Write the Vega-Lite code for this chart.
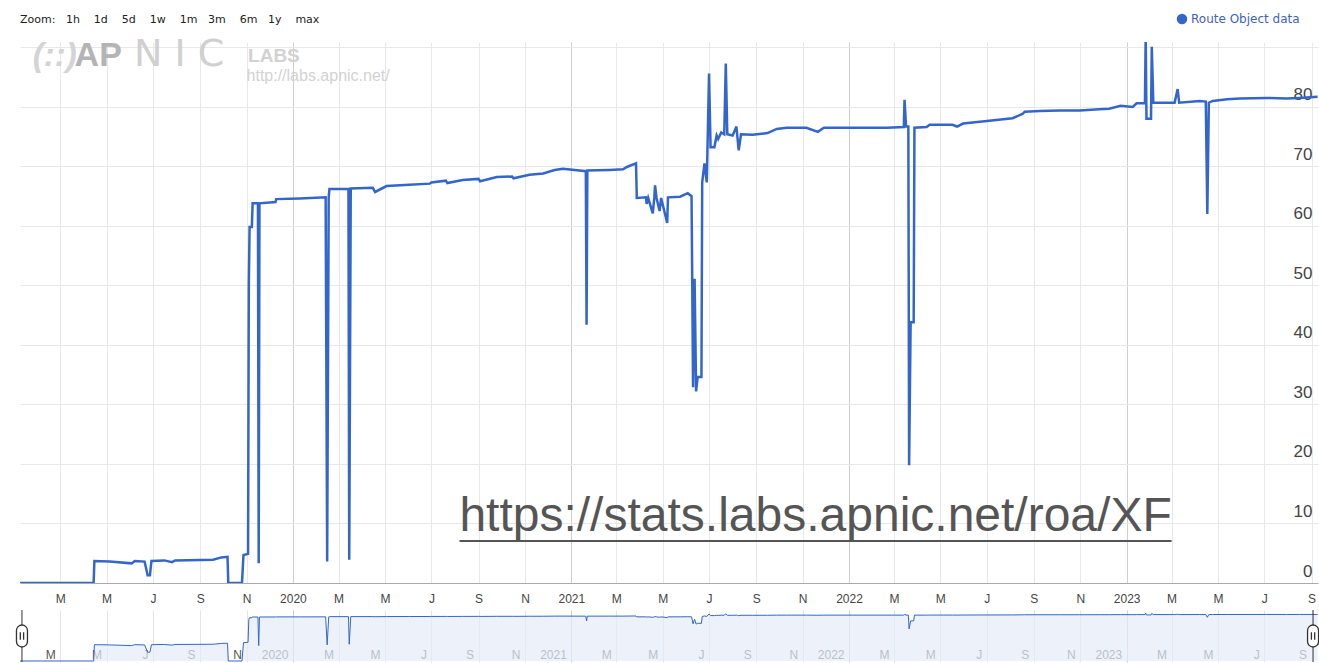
{
  "$schema": "https://vega.github.io/schema/vega-lite/v6.json",
  "background": "white",
  "padding": {"left": 13, "top": 13, "right": 0, "bottom": 0},
  "config": {
    "font": "Arial",
    "view": {"stroke": null},
    "axis": {"title": null},
    "title": {"font": "DejaVu Sans", "fontSize": 11, "fontWeight": "normal", "color": "#222222", "anchor": "start", "frame": "group"}
  },
  "title": {"text": "Zoom:\u00a0\u00a0\u00a01h\u00a0\u00a0\u00a0\u00a01d\u00a0\u00a0\u00a0\u00a05d\u00a0\u00a0\u00a0\u00a01w\u00a0\u00a0\u00a0\u00a01m\u00a0\u00a0\u00a03m\u00a0\u00a0\u00a0\u00a06m\u00a0\u00a0\u00a01y\u00a0\u00a0\u00a0\u00a0max", "offset": -12},
  "datasets": {
    "roa": [
      {"date": "2019-01-07", "value": 0},
      {"date": "2019-04-14", "value": 0},
      {"date": "2019-04-15", "value": 3.7},
      {"date": "2019-05-05", "value": 3.6},
      {"date": "2019-06-03", "value": 3.3},
      {"date": "2019-06-07", "value": 3.7},
      {"date": "2019-06-20", "value": 3.6},
      {"date": "2019-06-24", "value": 1.3},
      {"date": "2019-06-27", "value": 1.3},
      {"date": "2019-06-29", "value": 3.7},
      {"date": "2019-07-16", "value": 3.8},
      {"date": "2019-07-26", "value": 3.5},
      {"date": "2019-07-30", "value": 3.8},
      {"date": "2019-09-18", "value": 3.9},
      {"date": "2019-09-29", "value": 4.3},
      {"date": "2019-10-07", "value": 4.4},
      {"date": "2019-10-08", "value": 0},
      {"date": "2019-10-26", "value": 0},
      {"date": "2019-10-28", "value": 4.7},
      {"date": "2019-11-03", "value": 4.9},
      {"date": "2019-11-04", "value": 50},
      {"date": "2019-11-05", "value": 59.8},
      {"date": "2019-11-08", "value": 59.8},
      {"date": "2019-11-09", "value": 63.8},
      {"date": "2019-11-16", "value": 63.8},
      {"date": "2019-11-17", "value": 3.3},
      {"date": "2019-11-18", "value": 63.8},
      {"date": "2019-12-09", "value": 64.0},
      {"date": "2019-12-10", "value": 64.5},
      {"date": "2020-01-10", "value": 64.6},
      {"date": "2020-02-13", "value": 64.8},
      {"date": "2020-02-15", "value": 3.6},
      {"date": "2020-02-17", "value": 64.8},
      {"date": "2020-02-18", "value": 66.2},
      {"date": "2020-03-14", "value": 66.2},
      {"date": "2020-03-15", "value": 3.9},
      {"date": "2020-03-17", "value": 66.3},
      {"date": "2020-04-15", "value": 66.4},
      {"date": "2020-04-18", "value": 65.7},
      {"date": "2020-05-03", "value": 66.7},
      {"date": "2020-06-02", "value": 66.9},
      {"date": "2020-06-29", "value": 67.1},
      {"date": "2020-07-01", "value": 67.3},
      {"date": "2020-07-20", "value": 67.6},
      {"date": "2020-07-22", "value": 67.2},
      {"date": "2020-08-11", "value": 67.7},
      {"date": "2020-09-01", "value": 67.9},
      {"date": "2020-09-03", "value": 67.5},
      {"date": "2020-09-25", "value": 68.2},
      {"date": "2020-10-15", "value": 68.3},
      {"date": "2020-10-17", "value": 68.0},
      {"date": "2020-11-07", "value": 68.6},
      {"date": "2020-11-25", "value": 68.8},
      {"date": "2020-12-10", "value": 69.4},
      {"date": "2020-12-21", "value": 69.6},
      {"date": "2021-01-20", "value": 69.2},
      {"date": "2021-01-21", "value": 43.4},
      {"date": "2021-01-22", "value": 69.3},
      {"date": "2021-02-20", "value": 69.4},
      {"date": "2021-03-10", "value": 69.5},
      {"date": "2021-03-15", "value": 69.9},
      {"date": "2021-03-27", "value": 70.5},
      {"date": "2021-03-28", "value": 64.7},
      {"date": "2021-04-09", "value": 64.8},
      {"date": "2021-04-10", "value": 63.7},
      {"date": "2021-04-12", "value": 64.7},
      {"date": "2021-04-18", "value": 62.1},
      {"date": "2021-04-20", "value": 64.7},
      {"date": "2021-04-21", "value": 66.8},
      {"date": "2021-04-23", "value": 64.7},
      {"date": "2021-04-27", "value": 62.5},
      {"date": "2021-04-29", "value": 64.7},
      {"date": "2021-05-07", "value": 60.5},
      {"date": "2021-05-08", "value": 64.8},
      {"date": "2021-05-24", "value": 64.9},
      {"date": "2021-06-03", "value": 65.5},
      {"date": "2021-06-08", "value": 65.0},
      {"date": "2021-06-10", "value": 32.9},
      {"date": "2021-06-12", "value": 51.1},
      {"date": "2021-06-14", "value": 32.2},
      {"date": "2021-06-16", "value": 34.6},
      {"date": "2021-06-21", "value": 34.6},
      {"date": "2021-06-22", "value": 67.3},
      {"date": "2021-06-25", "value": 70.5},
      {"date": "2021-06-28", "value": 67.3},
      {"date": "2021-07-01", "value": 85.6},
      {"date": "2021-07-03", "value": 73.2},
      {"date": "2021-07-08", "value": 73.2},
      {"date": "2021-07-11", "value": 75.2},
      {"date": "2021-07-13", "value": 74.6},
      {"date": "2021-07-17", "value": 75.7},
      {"date": "2021-07-21", "value": 75.4},
      {"date": "2021-07-23", "value": 87.3},
      {"date": "2021-07-25", "value": 75.4},
      {"date": "2021-08-01", "value": 75.2},
      {"date": "2021-08-06", "value": 76.7},
      {"date": "2021-08-07", "value": 75.3},
      {"date": "2021-08-09", "value": 72.7},
      {"date": "2021-08-12", "value": 75.4},
      {"date": "2021-08-27", "value": 75.3},
      {"date": "2021-09-16", "value": 75.6},
      {"date": "2021-09-28", "value": 76.3},
      {"date": "2021-10-11", "value": 76.5},
      {"date": "2021-11-06", "value": 76.5},
      {"date": "2021-11-21", "value": 75.8},
      {"date": "2021-11-29", "value": 76.5},
      {"date": "2022-01-06", "value": 76.5},
      {"date": "2022-02-20", "value": 76.5},
      {"date": "2022-03-14", "value": 76.6},
      {"date": "2022-03-15", "value": 81.2},
      {"date": "2022-03-17", "value": 76.7},
      {"date": "2022-03-20", "value": 76.7},
      {"date": "2022-03-21", "value": 19.8},
      {"date": "2022-03-23", "value": 43.8},
      {"date": "2022-03-27", "value": 43.8},
      {"date": "2022-03-28", "value": 76.5},
      {"date": "2022-04-13", "value": 76.6},
      {"date": "2022-04-17", "value": 77.0},
      {"date": "2022-05-17", "value": 77.0},
      {"date": "2022-05-23", "value": 76.7},
      {"date": "2022-05-31", "value": 77.2},
      {"date": "2022-06-22", "value": 77.5},
      {"date": "2022-08-04", "value": 78.1},
      {"date": "2022-08-17", "value": 78.8},
      {"date": "2022-08-20", "value": 79.2},
      {"date": "2022-09-09", "value": 79.3},
      {"date": "2022-10-05", "value": 79.4},
      {"date": "2022-10-31", "value": 79.4},
      {"date": "2022-11-26", "value": 79.6},
      {"date": "2022-12-09", "value": 79.7},
      {"date": "2022-12-24", "value": 80.2},
      {"date": "2023-01-09", "value": 80.0},
      {"date": "2023-01-14", "value": 80.6},
      {"date": "2023-01-25", "value": 80.6},
      {"date": "2023-01-26", "value": 92},
      {"date": "2023-01-27", "value": 78.0},
      {"date": "2023-02-02", "value": 78.0},
      {"date": "2023-02-03", "value": 90.1},
      {"date": "2023-02-05", "value": 80.7},
      {"date": "2023-03-05", "value": 80.7},
      {"date": "2023-03-09", "value": 83.0},
      {"date": "2023-03-11", "value": 80.7},
      {"date": "2023-04-07", "value": 81.0},
      {"date": "2023-04-15", "value": 80.9},
      {"date": "2023-04-17", "value": 62.0},
      {"date": "2023-04-19", "value": 80.7},
      {"date": "2023-04-24", "value": 81.0},
      {"date": "2023-05-13", "value": 81.3},
      {"date": "2023-05-30", "value": 81.4},
      {"date": "2023-07-04", "value": 81.5},
      {"date": "2023-07-30", "value": 81.4},
      {"date": "2023-08-16", "value": 81.5},
      {"date": "2023-09-09", "value": 81.7}
    ]
  },
  "spacing": 27,
  "bounds": "flush",
  "resolve": {"scale": {"x": "independent", "y": "independent", "color": "independent"}},
  "vconcat": [
    {
      "width": 1298,
      "height": 541,
      "layer": [
        {
          "data": {"name": "roa"},
          "mark": {"type": "line", "strokeWidth": 2.5, "clip": true},
          "encoding": {
            "x": {
              "field": "date", "type": "temporal",
              "scale": {"type": "utc", "domain": [{"year": 2019, "month": 1, "date": 7, "hours": 5, "utc": true}, {"year": 2023, "month": 9, "date": 9, "hours": 12, "utc": true}]},
              "axis": {
                "title": null,
                "tickCount": {"interval": "month", "step": 2},
                "labelExpr": "utcmonth(datum.value) === 0 ? utcFormat(datum.value, '%Y') : substring(utcFormat(datum.value, '%b'), 0, 1)",
                "ticks": false,
                "labelPadding": 10,
                "labelFontSize": 12,
                "labelFont": "Arial",
                "labelColor": "#444444",
                "labelFlush": false,
                "labelOverlap": false,
                "domainColor": "#aaaaaa",
                "grid": true,
                "gridColor": {"condition": {"test": "utcmonth(datum.value) === 0", "value": "#cfcfcf"}, "value": "#e8e8e8"}
              }
            },
            "y": {
              "field": "value", "type": "quantitative",
              "scale": {"domain": [0, 90.9], "nice": false, "zero": false},
              "axis": {
                "orient": "right",
                "title": null,
                "values": [0, 10, 20, 30, 40, 50, 60, 70, 80, 90],
                "labelExpr": "datum.value >= 90 ? '' : datum.label",
                "ticks": false,
                "domain": false,
                "grid": true,
                "labelAlign": "right",
                "labelPadding": -6,
                "labelBaseline": "alphabetic",
                "labelOffset": -7,
                "labelFontSize": 17,
                "labelFont": "Arial",
                "labelColor": "#444444",
                "gridColor": "#e8e8e8"
              }
            },
            "color": {
              "datum": "Route Object data", "type": "nominal",
              "scale": {"range": ["#3366cc"]},
              "legend": {
                "orient": "none", "legendX": 1156, "legendY": -29, "title": null,
                "symbolType": "circle", "symbolSize": 110, "symbolFillColor": "#3366cc", "symbolStrokeWidth": 0,
                "labelFont": "DejaVu Sans", "labelFontSize": 12, "labelColor": "#3d62c4", "padding": 0, "labelOffset": 3
              }
            }
          }
        },
        {
          "data": {"values": [{}]},
          "mark": {"type": "text", "align": "left", "baseline": "alphabetic", "fontSize": 33, "fontWeight": "bold", "fontStyle": "italic", "color": "#d4d4d4", "font": "Liberation Sans"},
          "encoding": {
            "x": {"datum": {"year": 2019, "month": 1, "date": 24, "utc": true}, "type": "temporal", "scale": {"type": "utc"}},
            "y": {"datum": 86.8, "type": "quantitative"},
            "text": {"value": "(::)"}
          }
        },
        {
          "data": {"values": [{}]},
          "mark": {"type": "text", "align": "left", "baseline": "alphabetic", "fontSize": 34, "fontWeight": "bold", "color": "#b4b4b4", "font": "Liberation Sans"},
          "encoding": {
            "x": {"datum": {"year": 2019, "month": 3, "date": 20, "utc": true}, "type": "temporal", "scale": {"type": "utc"}},
            "y": {"datum": 86.8, "type": "quantitative"},
            "text": {"value": "AP"}
          }
        },
        {
          "data": {"values": [{}]},
          "mark": {"type": "text", "align": "left", "baseline": "alphabetic", "fontSize": 38, "fontWeight": "normal", "color": "#d0d0d0", "font": "DejaVu Sans"},
          "encoding": {
            "x": {"datum": {"year": 2019, "month": 6, "date": 6, "utc": true}, "type": "temporal", "scale": {"type": "utc"}},
            "y": {"datum": 86.8, "type": "quantitative"},
            "text": {"value": "N I C"}
          }
        },
        {
          "data": {"values": [{}]},
          "mark": {"type": "text", "align": "left", "baseline": "alphabetic", "fontSize": 19, "fontWeight": "bold", "color": "#d2d2d2", "font": "Liberation Sans"},
          "encoding": {
            "x": {"datum": {"year": 2019, "month": 11, "date": 3, "utc": true}, "type": "temporal", "scale": {"type": "utc"}},
            "y": {"datum": 87.6, "type": "quantitative"},
            "text": {"value": "LABS"}
          }
        },
        {
          "data": {"values": [{}]},
          "mark": {"type": "text", "align": "left", "baseline": "alphabetic", "fontSize": 16, "color": "#d2d2d2", "font": "Liberation Sans"},
          "encoding": {
            "x": {"datum": {"year": 2019, "month": 11, "date": 1, "utc": true}, "type": "temporal", "scale": {"type": "utc"}},
            "y": {"datum": 84.4, "type": "quantitative"},
            "text": {"value": "http://labs.apnic.net/"}
          }
        },
        {
          "data": {"values": [{}]},
          "mark": {"type": "text", "align": "center", "baseline": "alphabetic", "fontSize": 48, "color": "#555555", "font": "Liberation Sans"},
          "encoding": {
            "x": {"datum": {"year": 2021, "month": 11, "date": 18, "utc": true}, "type": "temporal", "scale": {"type": "utc"}},
            "y": {"datum": 8.7, "type": "quantitative"},
            "text": {"value": "https://stats.labs.apnic.net/roa/XF"}
          }
        },
        {
          "data": {"values": [{}]},
          "mark": {"type": "rule", "color": "#555555", "strokeWidth": 2},
          "encoding": {
            "x": {"datum": {"year": 2020, "month": 8, "date": 7, "utc": true}, "type": "temporal", "scale": {"type": "utc"}},
            "x2": {"datum": {"year": 2023, "month": 3, "date": 1, "utc": true}},
            "y": {"datum": 7.05, "type": "quantitative"}
          }
        }
      ]
    },
    {
      "width": 1298,
      "height": 52,
      "layer": [
        {
          "data": {"name": "roa"},
          "mark": {"type": "area", "color": "#e4ebf8", "clip": true, "line": {"color": "#3366cc", "strokeWidth": 1}},
          "encoding": {
            "x": {
              "field": "date", "type": "temporal",
              "scale": {"type": "utc", "domain": [{"year": 2019, "month": 1, "date": 7, "hours": 5, "utc": true}, {"year": 2023, "month": 9, "date": 9, "hours": 12, "utc": true}]},
              "axis": {
                "title": null,
                "tickCount": {"interval": "month", "step": 2},
                "labelExpr": "utcmonth(datum.value) === 0 ? utcFormat(datum.value, '%Y') : substring(utcFormat(datum.value, '%b'), 0, 1)",
                "ticks": false,
                "domain": false,
                "labelPadding": -13,
                "labelAlign": "right",
                "labelOffset": -5,
                "labelFontSize": 12,
                "labelFont": "Arial",
                "labelColor": "#555555",
                "labelFlush": false,
                "labelOverlap": false,
                "grid": true,
                "gridColor": {"condition": {"test": "utcmonth(datum.value) === 0", "value": "#cfcfcf"}, "value": "#e4e4e4"}
              }
            },
            "y": {"field": "value", "type": "quantitative", "scale": {"type": "symlog", "constant": 1, "domain": [-0.1, 125], "nice": false, "zero": false}, "axis": null}
          }
        },
        {
          "data": {"values": [{}]},
          "mark": {"type": "rule", "color": "#333333", "strokeWidth": 1},
          "encoding": {"x": {"datum": {"year": 2019, "month": 1, "date": 9, "hours": 19, "utc": true}, "type": "temporal", "scale": {"type": "utc"}}}
        },
        {
          "data": {"values": [{}]},
          "mark": {"type": "rule", "color": "#333333", "strokeWidth": 1},
          "encoding": {"x": {"datum": {"year": 2023, "month": 9, "date": 3, "utc": true}, "type": "temporal", "scale": {"type": "utc"}}}
        },
        {
          "data": {"values": [{}]},
          "mark": {"type": "point", "shape": "M -0.5,-0.5 A 0.5,0.5 0 0 1 0.5,-0.5 L 0.5,0.5 A 0.5,0.5 0 0 1 -0.5,0.5 Z M -0.15,-0.35 L -0.15,0.35 M 0.15,-0.35 L 0.15,0.35", "size": 484, "filled": false, "fill": "#ffffff", "fillOpacity": 1, "stroke": "#333333", "strokeWidth": 1.3, "opacity": 1},
          "encoding": {"x": {"datum": {"year": 2019, "month": 1, "date": 9, "hours": 19, "utc": true}, "type": "temporal", "scale": {"type": "utc"}}}
        },
        {
          "data": {"values": [{}]},
          "mark": {"type": "point", "shape": "M -0.5,-0.5 A 0.5,0.5 0 0 1 0.5,-0.5 L 0.5,0.5 A 0.5,0.5 0 0 1 -0.5,0.5 Z M -0.15,-0.35 L -0.15,0.35 M 0.15,-0.35 L 0.15,0.35", "size": 484, "filled": false, "fill": "#ffffff", "fillOpacity": 1, "stroke": "#333333", "strokeWidth": 1.3, "opacity": 1},
          "encoding": {"x": {"datum": {"year": 2023, "month": 9, "date": 3, "utc": true}, "type": "temporal", "scale": {"type": "utc"}}}
        }
      ]
    }
  ]
}
